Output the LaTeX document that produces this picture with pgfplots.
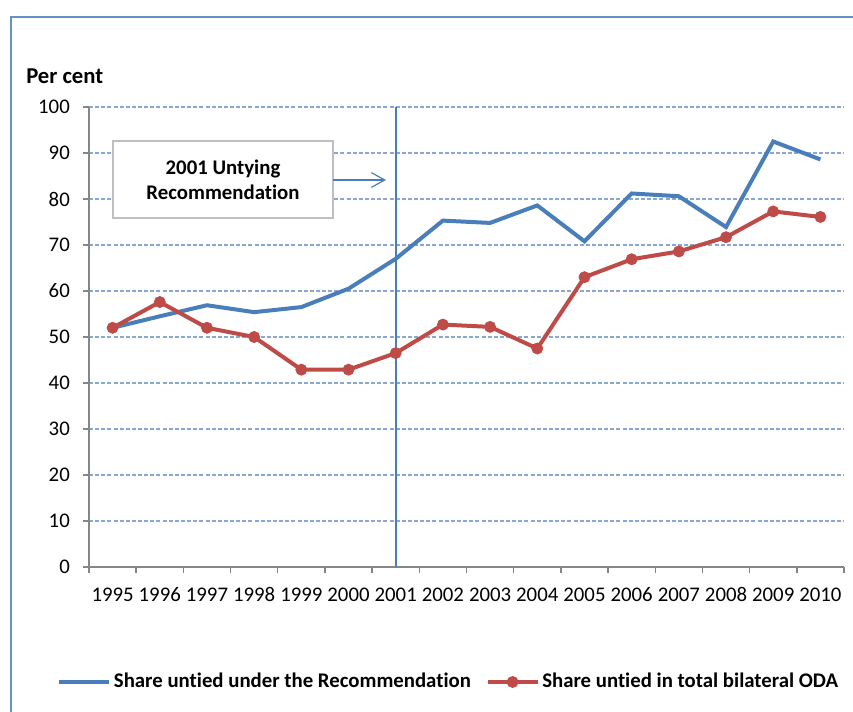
\documentclass[border=0pt]{standalone}
\usepackage{fontspec}
\setmainfont{Carlito}[Ligatures=NoCommon]
\usepackage{pgfplots}
\pgfplotsset{compat=1.18}
\usetikzlibrary{arrows.meta}
\definecolor{sblue}{RGB}{74,126,187}
\definecolor{sred}{RGB}{190,75,72}
\definecolor{gridc}{RGB}{135,168,212}
\definecolor{axgrey}{RGB}{134,134,134}
\definecolor{framec}{RGB}{100,145,200}
\definecolor{boxc}{RGB}{191,191,191}
\begin{document}
\fontsize{15.6pt}{18pt}\selectfont
\begin{tikzpicture}
\useasboundingbox (-66.75pt,-108pt) rectangle (573pt,425.25pt);
\draw[framec, line width=0.8pt] (-58.5pt,-112pt) -- (-58.5pt,412.5pt) -- (577pt,412.5pt);
\begin{axis}[
  at={(0pt,0pt)}, anchor=south west, scale only axis,
  width=566.25pt, height=345pt,
  xmin=-0.5, xmax=15.5, ymin=0, ymax=100,
  axis lines*=left,
  axis line style={draw=axgrey, line width=1.1pt, -},
  xtick={0,...,15},
  xticklabels={1995,1996,1997,1998,1999,2000,2001,2002,2003,2004,2005,2006,2007,2008,2009,2010},
  major x tick style={draw=none},
  minor xtick={-0.5,0.5,...,15.5},
  minor tick length=4.5pt, major tick length=4.5pt,
  tick align=outside,
  ytick={0,10,...,100},
  y tick style={draw=axgrey, line width=1.1pt},
  minor x tick style={draw=axgrey, line width=1.1pt},
  ymajorgrids,
  grid style={gridc, line width=0.9pt, dash pattern=on 3pt off 1.6pt},
  tick label style={font=\fontsize{15.6pt}{18pt}\selectfont, text=black},
  xticklabel style={text height=10pt, text depth=0pt, yshift=-6pt},
  yticklabel style={xshift=-4.5pt},
  /pgf/number format/assume math mode=true,
  legend columns=2,
  legend style={draw=none, fill=none, inner sep=0pt, at={(-24pt,-86.25pt)}, anchor=west,
    font=\fontsize{15.6pt}{18pt}\selectfont\bfseries,
    nodes={inner xsep=2pt, inner ysep=1pt},
    /tikz/every even column/.append style={column sep=9pt}},
  legend image code/.code={\draw[mark repeat=2, mark phase=2, #1] plot coordinates {(0pt,0pt) (18.75pt,0pt) (37.5pt,0pt)};},
]
\draw[sblue, line width=1.2pt] (axis cs:6,0) -- (axis cs:6,100);
\addplot[sblue, line width=3pt, mark=none] coordinates {
(0,52.0) (1,54.5) (2,56.9) (3,55.4) (4,56.5) (5,60.5) (6,67.0) (7,75.3)
(8,74.8) (9,78.6) (10,70.8) (11,81.2) (12,80.6) (13,73.9) (14,92.5) (15,88.6)};
\addlegendentry{Share untied under the Recommendation}
\addplot[sred, line width=3pt, mark=*, mark size=4.2pt, mark options={solid, fill=sred, line width=0.5pt}] coordinates {
(0,52.0) (1,57.6) (2,52.0) (3,50.0) (4,42.9) (5,42.9) (6,46.5) (7,52.7)
(8,52.2) (9,47.5) (10,63.0) (11,66.9) (12,68.6) (13,71.7) (14,77.3) (15,76.1)};
\addlegendentry{Share untied in total bilateral ODA}
\end{axis}
\node[anchor=west, inner sep=0pt, font=\fontsize{17pt}{20pt}\selectfont\bfseries] at (-47.25pt,368.25pt) {Per cent};
\draw[boxc, line width=1.1pt, fill=white] (18pt,261.75pt) rectangle (183pt,319.5pt);
\node[align=center, inner sep=0pt, font=\fontsize{15.6pt}{18.75pt}\selectfont\bfseries] at (100.5pt,290.6pt) {2001 Untying\\Recommendation};
\draw[sblue, line width=0.9pt, -{Straight Barb[length=10pt, width=11pt]}] (183pt,290.25pt) -- (222.75pt,290.25pt);
\end{tikzpicture}
\end{document}
